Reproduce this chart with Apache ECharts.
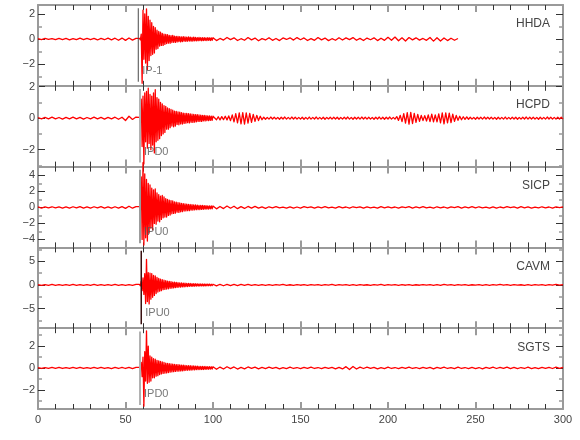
<!DOCTYPE html>
<html>
<head>
<meta charset="utf-8">
<script src="https://cdn.jsdelivr.net/npm/echarts@6/dist/echarts.min.js"></script>
<style>
html,body{margin:0;padding:0;background:#fff;}
#chart{width:580px;height:440px;}
</style>
</head>
<body>
<div id="chart"></div>
<script>
// ---------------- DATA ----------------
const stations = ['HHDA', 'HCPD', 'SICP', 'CAVM', 'SGTS'];
const yMin = [-3.7, -3.07, -5.0, -9.1, -3.76];
const yMax = [2.7, 2.05, 5.1, 7.9, 3.64];
const yMajorTicks = [[-2, 0, 2], [-2, 0, 2], [-4, -2, 0, 2, 4], [-5, 0, 5], [-2, 0, 2]];
const yMinorTicks = [[-3, -1, 1], [-3, -1, 1], [-3, -1, 1, 3], [-7.5, -2.5, 2.5, 7.5], [-3, -1, 1, 3]];
const pickTimes = [57.3, 58.3, 58.3, 59.0, 58.3];
const pickLabels = ['IP-1', 'IPD0', 'IPU0', 'IPU0', 'IPD0'];

// sample timing of the value arrays (seconds)
const PRE_T0 = 0, PRE_DT = 2;
const BURST_T0 = 58, BURST_DT = 0.5;
const POST_T0 = 102;
const postDt = [2, 1, 2, 2, 2];

const hhdaPre = [0.03,-0.04,0.05,-0.03,0.04,-0.05,0.06,-0.04,0.05,-0.06,0.04,-0.05,0.07,-0.05,0.06,-0.04,0.05,-0.07,0.06,-0.05,0.08,-0.06,0.07,-0.09,0.08,-0.1,0.09,-0.08,0.06];
const hhdaBurst = [0.05,-0.06,0.4,-3.5,2.3,-1.6,2.0,-1.9,2.4,-2.4,
  1.8,-1.7,1.5,-1.3,1.3,-1.2,1.0,-1.1,0.9,-0.8,
  0.7,-0.75,0.6,-0.55,0.55,-0.5,0.45,-0.5,0.4,-0.42,
  0.38,-0.35,0.35,-0.32,0.3,-0.33,0.28,-0.27,0.3,-0.25,
  0.24,-0.26,0.22,-0.23,0.22,-0.2,0.2,-0.22,0.18,-0.2,
  0.19,-0.17,0.18,-0.18,0.16,-0.17,0.17,-0.15,0.15,-0.16,
  0.14,-0.15,0.15,-0.13,0.14,-0.14,0.12,-0.13,0.13,-0.12,
  0.12,-0.13,0.11,-0.12,0.12,-0.11,0.1,-0.12,0.11,-0.1,
  0.1,-0.11,0.1,-0.1,0.11];
const hhdaPost = [-0.12,0.05,-0.08,0.13,-0.04,0.1,-0.11,0.03,-0.09,0.12,-0.06,0.08,-0.13,0.04,-0.07,0.11,-0.1,0.05,-0.12,0.09,-0.03,0.1,-0.08,0.12,-0.05,
  0.09,-0.11,0.04,-0.1,0.12,-0.06,0.08,-0.12,0.03,-0.09,0.11,-0.07,0.1,-0.04,0.12,-0.09,0.06,-0.11,0.08,-0.05,0.1,-0.12,0.07,-0.1,
  0.14,-0.09,0.16,-0.13,0.1,-0.15,0.12,-0.06,0.1,-0.08,0.05,-0.1,0.13,-0.16,0.11,-0.15,0.09,-0.12,0.07,-0.09,0.05];

const hcpdPre = [0.04,-0.05,0.05,-0.04,0.06,-0.05,0.04,-0.06,0.05,-0.04,0.06,-0.05,0.05,-0.06,0.04,-0.05,0.06,-0.05,0.05,-0.06,0.05,-0.05,0.06,-0.07,0.06,-0.15,0.12,-0.08,0.07];
const hcpdBurst = [0.05,-0.3,1.2,-1.8,1.4,-2.9,1.6,-1.5,1.7,-1.9,
  1.9,-1.6,1.5,-2.0,1.4,-1.7,1.6,-2.2,1.8,-1.5,
  1.3,-1.4,1.2,-1.3,1.0,-1.1,0.9,-1.0,0.8,-0.9,
  0.75,-0.7,0.65,-0.7,0.6,-0.6,0.55,-0.5,0.5,-0.55,
  0.45,-0.5,0.42,-0.4,0.4,-0.42,0.38,-0.36,0.35,-0.37,
  0.32,-0.33,0.3,-0.32,0.3,-0.28,0.28,-0.3,0.27,-0.26,
  0.25,-0.27,0.24,-0.25,0.22,-0.23,0.22,-0.2,0.2,-0.21,
  0.19,-0.2,0.18,-0.17,0.17,-0.18,0.16,-0.15,0.15,-0.16,
  0.14,-0.14,0.13,-0.14,0.12];
const hcpdPost = [-0.1,0.09,-0.11,0.1,-0.09,0.12,-0.11,0.14,-0.16,
  0.2,-0.24,0.28,-0.3,0.33,-0.36,0.35,-0.38,0.34,-0.32,0.3,-0.26,0.24,-0.2,0.18,-0.15,0.12,-0.1,
  0.06,-0.07,0.05,-0.06,0.07,-0.05,0.06,-0.06,0.05,-0.07,
  0.06,-0.05,0.07,-0.06,0.05,-0.06,0.07,-0.05,0.06,-0.06,
  0.05,-0.06,0.06,-0.07,0.05,-0.06,0.07,-0.06,0.05,-0.05,
  0.07,-0.06,0.05,-0.06,0.06,-0.07,0.05,-0.05,0.06,-0.06,
  0.06,-0.05,0.06,-0.07,0.05,-0.06,0.06,-0.05,0.07,-0.06,
  0.05,-0.07,0.06,-0.05,0.06,-0.06,0.07,-0.05,0.06,-0.06,
  0.06,-0.06,0.05,-0.07,0.06,-0.05,0.07,-0.06,0.06,-0.07,
  0.06,-0.05,0.07,-0.06,0.05,-0.06,
  0.1,-0.14,0.18,-0.22,0.28,-0.32,0.35,-0.38,0.36,-0.34,0.3,-0.27,0.24,-0.2,0.17,-0.15,0.16,-0.18,
  0.2,-0.22,0.25,-0.23,0.2,-0.24,0.27,-0.3,0.33,-0.36,0.34,-0.3,0.32,-0.28,0.25,-0.2,0.17,-0.14,0.12,-0.1,0.09,-0.08,0.08,-0.07,
  0.06,-0.06,0.05,-0.07,0.06,-0.05,0.06,-0.06,0.07,-0.05,
  0.06,-0.05,0.06,-0.06,0.05,-0.07,0.06,-0.06,0.05,-0.06,
  0.07,-0.06,0.05,-0.06,0.06,-0.05,0.06,-0.07,0.05,-0.06,
  0.06,-0.05,0.07,-0.06,0.06,-0.05,0.06,-0.06,0.05,-0.07,
  0.06,-0.06,0.05,-0.06,0.07,-0.05,0.06,-0.06,0.05,-0.06,
  0.06,-0.05,0.06,-0.06];

const sicpPre = [0.06,-0.08,0.07,-0.06,0.08,-0.07,0.06,-0.08,0.07,-0.09,0.08,-0.07,0.1,-0.08,0.07,-0.09,0.08,-0.07,0.09,-0.08,0.07,-0.1,0.08,-0.09,0.1,-0.12,0.15,-0.1,0.09];
const sicpBurst = [0.1,-0.4,3.8,-4.0,5.6,-4.7,4.2,-3.8,3.5,-4.2,
  3.0,-3.2,2.8,-2.6,2.4,-2.8,2.2,-2.0,2.3,-2.1,
  1.8,-1.7,1.6,-1.8,1.4,-1.5,1.5,-1.3,1.3,-1.2,
  1.1,-1.2,1.0,-1.0,0.9,-0.95,0.85,-0.8,0.8,-0.75,
  0.7,-0.72,0.65,-0.6,0.6,-0.62,0.55,-0.55,0.5,-0.52,
  0.48,-0.45,0.45,-0.44,0.42,-0.4,0.38,-0.4,0.36,-0.35,
  0.34,-0.33,0.32,-0.32,0.3,-0.29,0.28,-0.28,0.26,-0.27,
  0.25,-0.24,0.24,-0.23,0.22,-0.22,0.21,-0.2,0.2,-0.2,
  0.19,-0.18,0.18,-0.17,0.17];
const sicpPost = [-0.18,0.12,-0.15,0.17,-0.1,0.14,-0.16,0.09,-0.13,0.12,-0.08,0.13,-0.1,0.07,-0.11,
  0.08,-0.05,0.1,-0.07,0.04,-0.09,0.06,-0.1,0.05,-0.08,
  0.09,-0.04,0.07,-0.1,0.06,-0.05,0.09,-0.07,0.03,-0.08,
  0.1,-0.06,0.05,-0.09,0.08,-0.04,0.07,-0.1,0.06,-0.07,
  0.04,-0.09,0.1,-0.05,0.08,-0.06,0.05,-0.1,0.07,-0.04,
  0.09,-0.08,0.06,-0.05,0.1,-0.07,0.04,-0.09,0.08,-0.06,
  0.05,-0.1,0.07,-0.04,0.09,-0.08,0.06,-0.05,0.1,-0.07,
  0.08,-0.06,0.04,-0.09,0.07,-0.1,0.05,-0.06,0.09,-0.04,
  0.06,-0.08,0.1,-0.05,0.07,-0.09,0.04,-0.07,0.08,-0.06,
  0.05,-0.09,0.07,-0.04,0.06];

const cavmPre = [0.08,-0.1,0.09,-0.08,0.1,-0.09,0.08,-0.1,0.09,-0.08,0.1,-0.09,0.08,-0.1,0.09,-0.08,0.1,-0.09,0.08,-0.1,0.09,-0.08,0.1,-0.09,0.08,-0.1,0.09,-0.08,0.1];
const cavmBurst = [0.1,-0.2,0.8,-1.2,1.5,-2.0,2.4,-3.9,5.4,-3.5,
  2.6,-4.0,2.5,-3.0,2.4,-2.6,2.0,-2.2,1.9,-1.8,
  1.6,-1.5,1.4,-1.3,1.2,-1.2,1.1,-1.0,1.0,-0.95,
  0.9,-0.85,0.8,-0.8,0.75,-0.7,0.7,-0.65,0.6,-0.62,
  0.58,-0.55,0.52,-0.5,0.5,-0.48,0.45,-0.45,0.42,-0.4,
  0.4,-0.38,0.36,-0.36,0.34,-0.33,0.32,-0.31,0.3,-0.3,
  0.28,-0.28,0.27,-0.26,0.25,-0.25,0.24,-0.23,0.22,-0.22,
  0.21,-0.21,0.2,-0.2,0.19,-0.19,0.18,-0.18,0.17,-0.17,
  0.16,-0.16,0.15,-0.15,0.15];
const cavmPost = [-0.2,0.14,-0.17,0.12,-0.15,0.1,-0.13,0.11,-0.09,0.12,-0.1,0.08,-0.11,0.09,-0.07,
  0.06,-0.09,0.08,-0.05,0.1,-0.07,0.04,-0.08,0.09,-0.06,
  0.05,-0.1,0.07,-0.04,0.08,-0.09,0.06,-0.05,0.1,-0.07,
  0.09,-0.04,0.06,-0.08,0.05,-0.1,0.07,-0.06,0.04,-0.09,
  0.08,-0.05,0.1,-0.07,0.06,-0.04,0.09,-0.08,0.05,-0.06,
  0.07,-0.1,0.04,-0.06,0.09,-0.05,0.08,-0.07,0.06,-0.09,
  0.1,-0.04,0.05,-0.08,0.07,-0.06,0.09,-0.1,0.04,-0.05,
  0.06,-0.09,0.08,-0.07,0.05,-0.04,0.1,-0.06,0.07,-0.08,
  0.09,-0.05,0.04,-0.1,0.06,-0.07,0.08,-0.04,0.05,-0.09,
  0.07,-0.06,0.1,-0.05,0.08];

const sgtsPre = [0.04,-0.05,0.04,-0.04,0.05,-0.04,0.05,-0.05,0.04,-0.05,0.05,-0.04,0.05,-0.05,0.04,-0.05,0.05,-0.04,0.05,-0.05,0.04,-0.06,0.05,-0.05,0.06,-0.05,0.05,-0.06,0.05];
const sgtsBurst = [0.05,-0.1,0.5,-0.8,1.0,-3.5,1.5,-1.2,3.4,-1.4,
  2.0,-1.3,1.1,-1.2,1.0,-0.9,0.85,-0.9,0.8,-0.75,
  0.7,-0.7,0.65,-0.6,0.6,-0.55,0.55,-0.5,0.5,-0.48,
  0.45,-0.45,0.42,-0.42,0.4,-0.38,0.37,-0.36,0.35,-0.34,
  0.33,-0.32,0.31,-0.3,0.3,-0.29,0.28,-0.27,0.26,-0.26,
  0.25,-0.24,0.23,-0.23,0.22,-0.21,0.21,-0.2,0.2,-0.19,
  0.19,-0.18,0.18,-0.17,0.17,-0.16,0.16,-0.16,0.15,-0.15,
  0.15,-0.14,0.14,-0.14,0.13,-0.13,0.13,-0.12,0.12,-0.12,
  0.12,-0.11,0.11,-0.11,0.11];
const sgtsPost = [-0.12,0.08,-0.1,0.11,-0.06,0.09,-0.1,0.05,-0.08,0.09,-0.04,0.07,-0.08,0.05,-0.06,
  0.07,-0.04,0.06,-0.08,0.03,-0.06,0.07,-0.05,0.04,-0.07,0.06,-0.03,0.08,-0.05,0.04,-0.07,0.06,-0.04,0.05,-0.08,0.06,-0.09,
  0.12,-0.14,0.13,-0.1,0.08,
  -0.05,0.07,-0.04,0.06,-0.08,0.03,-0.06,0.07,-0.05,0.04,
  -0.07,0.06,-0.03,0.08,-0.05,0.04,-0.07,0.06,-0.04,0.05,
  -0.08,0.06,-0.04,0.07,-0.05,0.03,-0.06,0.08,-0.05,0.04,
  -0.07,0.05,-0.06,0.04,-0.08,0.06,-0.03,0.07,-0.05,0.06,
  -0.04,0.08,-0.06,0.05,-0.07,0.04,-0.05,0.07,-0.06,0.03,
  -0.07,0.05,-0.04,0.06,-0.05,0.07,-0.04,0.06];

const traces = [
  [hhdaPre, hhdaBurst, hhdaPost],
  [hcpdPre, hcpdBurst, hcpdPost],
  [sicpPre, sicpBurst, sicpPost],
  [cavmPre, cavmBurst, cavmPost],
  [sgtsPre, sgtsBurst, sgtsPost]
];

// ---------------- BUILD ----------------
function buildTrace(pre, burst, post, pdt) {
  const pts = [];
  pre.forEach((v, k) => pts.push([PRE_T0 + k * PRE_DT, v]));
  burst.forEach((v, k) => pts.push([BURST_T0 + k * BURST_DT, v]));
  post.forEach((v, k) => pts.push([POST_T0 + k * pdt, v]));
  return pts;
}

const FONT = "'Liberation Sans Narrow', 'Liberation Sans', Arial, sans-serif";
const GRID_LEFT = 38, GRID_RIGHT = 17, GRID_TOP = 5, PANEL_H = 80.8;
const FRAME = '#9a9a9a';
const pickColors = ['#4a4a4a', '#b0b0b0', '#9a9a9a', '#3a1010', '#b0b0b0'];
const pickWidths = [1, 2, 2, 1.5, 2];

const grids = [], xAxes = [], yAxes = [], series = [], titles = [];
const fmt = v => (v < 0 ? '\u2212' + Math.abs(v) : String(v));

stations.forEach((name, i) => {
  const top = GRID_TOP + i * PANEL_H;
  grids.push({ left: GRID_LEFT, right: GRID_RIGHT, top: top, height: PANEL_H, containLabel: false });
  const last = i === stations.length - 1;
  ['bottom', 'top'].forEach(pos => {
    xAxes.push({
      gridIndex: i, type: 'value', position: pos, min: 0, max: 300, interval: 50,
      axisLine: { show: true, onZero: false, lineStyle: { color: FRAME, width: 2 } },
      axisTick: { show: true, inside: true, length: 7, lineStyle: { color: FRAME, width: 2 } },
      minorTick: { show: true, splitNumber: 5, length: 5, lineStyle: { color: '#333', width: 1 } },
      axisLabel: { show: last && pos === 'bottom', color: '#444', fontSize: 11, fontFamily: FONT, margin: 5 },
      splitLine: { show: false }, minorSplitLine: { show: false }
    });
  });
  ['left', 'right'].forEach(pos => {
    yAxes.push({
      gridIndex: i, type: 'value', position: pos, min: yMin[i], max: yMax[i],
      axisLine: { show: true, onZero: false, lineStyle: { color: FRAME, width: 2 } },
      axisTick: { show: true, inside: true, length: 7, customValues: yMajorTicks[i], lineStyle: { color: '#333', width: 1 } },
      axisLabel: { show: pos === 'left', customValues: yMajorTicks[i], formatter: fmt, color: '#444',
        fontSize: 11, fontFamily: FONT, margin: 3 },
      splitLine: { show: false }
    });
    yAxes.push({
      gridIndex: i, type: 'value', position: pos, offset: 0, min: yMin[i], max: yMax[i],
      axisLine: { show: false, onZero: false },
      axisTick: { show: true, inside: true, length: 4, customValues: yMinorTicks[i], lineStyle: { color: '#999', width: 1.5 } },
      axisLabel: { show: false },
      splitLine: { show: false }
    });
  });

  const range = yMax[i] - yMin[i];
  const traceData = buildTrace(traces[i][0], traces[i][1], traces[i][2], postDt[i]);
  // the whole trace drawn as one polyline through the axes' scales
  series.push({
    type: 'custom', xAxisIndex: i * 2, yAxisIndex: i * 4, silent: true, clip: false,
    data: traceData, z: 1,
    renderItem: function (params, api) {
      if (params.dataIndex !== 0) return null;
      const pts = traceData.map(p => api.coord(p));
      return {
        type: 'polyline', silent: true,
        shape: { points: pts },
        style: { stroke: '#ff0000', lineWidth: 1.3, fill: null, lineJoin: 'round' }
      };
    }
  });
  series.push({
    type: 'line', xAxisIndex: i * 2, yAxisIndex: i * 4,
    data: [[pickTimes[i], yMin[i] + 0.05 * range], [pickTimes[i], yMax[i] - 0.04 * range]],
    showSymbol: false, symbol: 'none', silent: true,
    lineStyle: { color: pickColors[i], width: pickWidths[i] }, z: 3
  });
  series.push({
    type: 'scatter', xAxisIndex: i * 2, yAxisIndex: i * 4,
    data: [[pickTimes[i], yMin[i] + 0.185 * range]], symbolSize: 0, silent: true,
    label: { show: true, position: 'right', distance: 4, formatter: pickLabels[i],
      color: '#555', fontSize: 11, fontFamily: FONT }, z: 10
  });
  titles.push({
    text: name, right: 30, top: top + 13, padding: 0,
    textStyle: { color: '#444', fontSize: 12, fontWeight: 'normal', fontFamily: FONT }
  });
});

const chart = echarts.init(document.getElementById('chart'), null, { renderer: 'canvas' });
chart.setOption({
  animation: false,
  backgroundColor: '#fff',
  title: titles,
  grid: grids,
  xAxis: xAxes,
  yAxis: yAxes,
  series: series
});
</script>
</body>
</html>
